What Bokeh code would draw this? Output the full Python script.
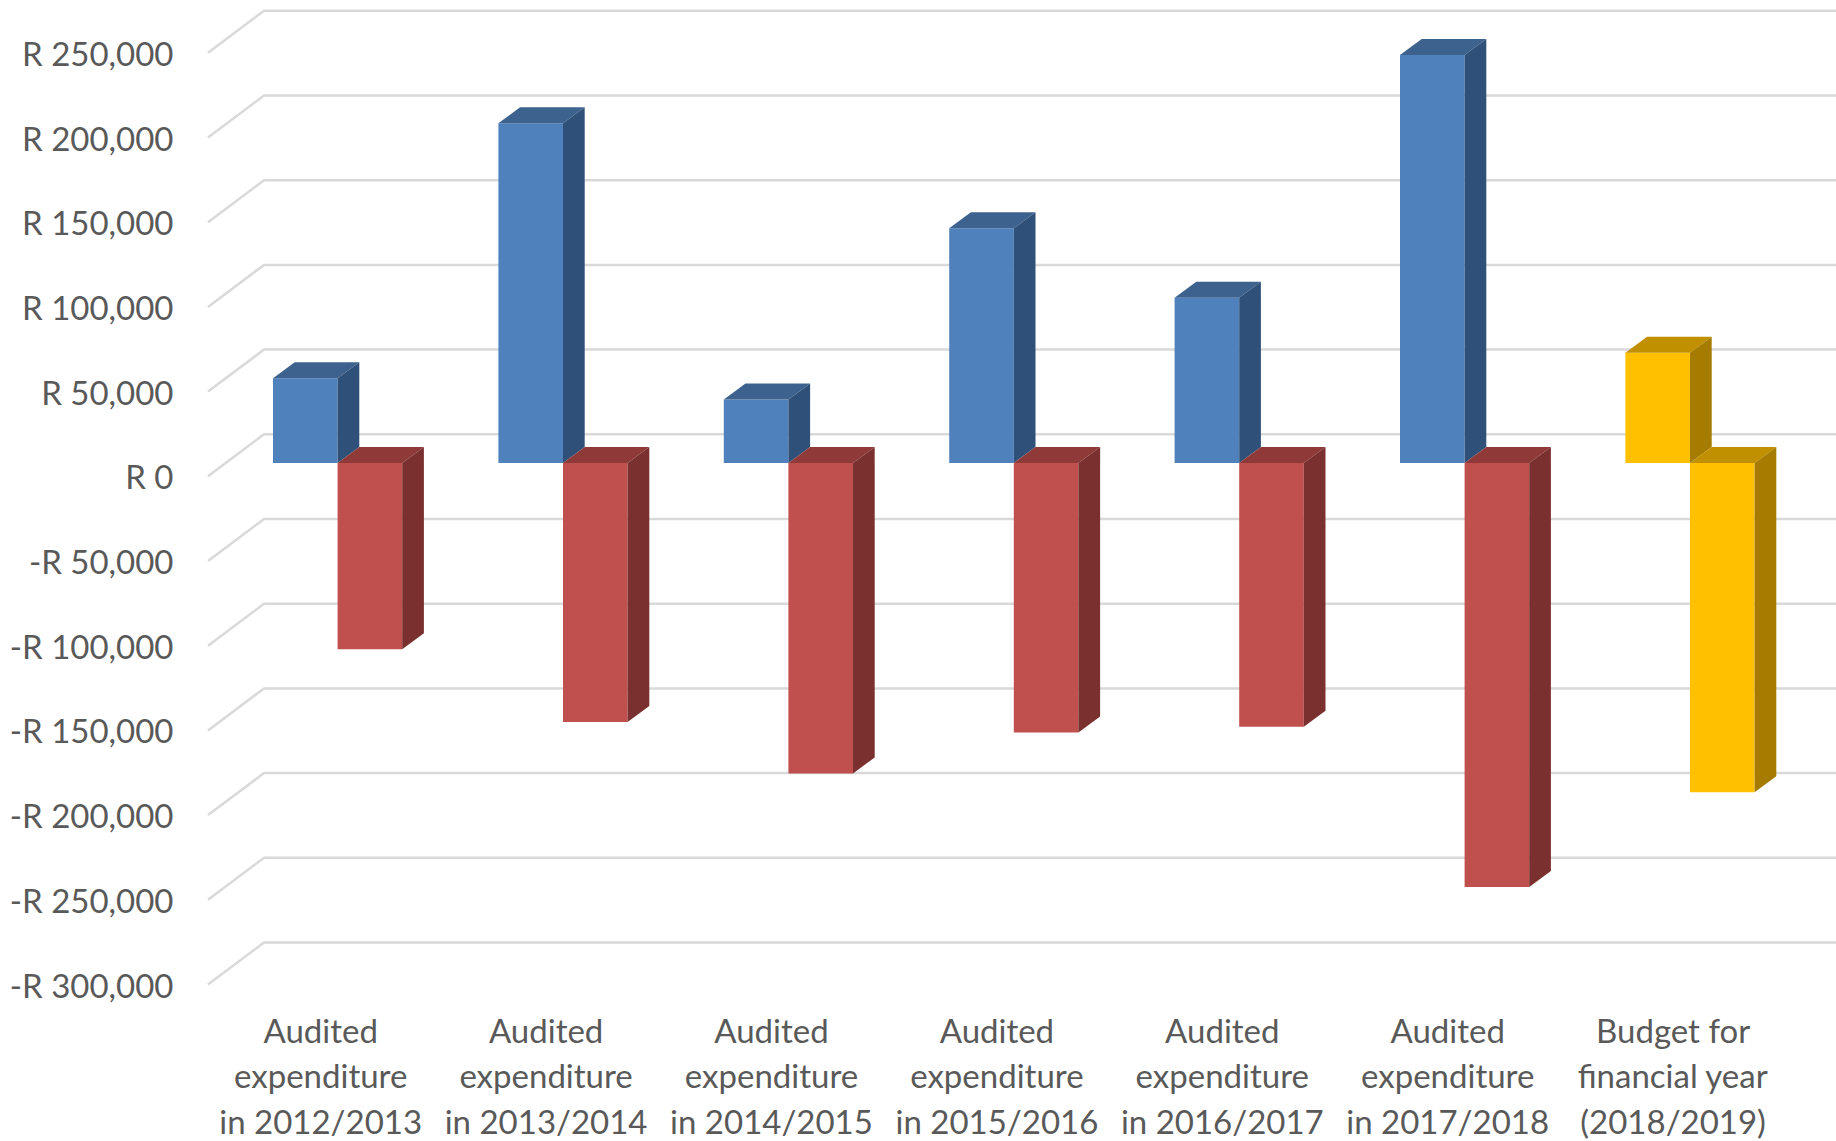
from bokeh.plotting import figure
from bokeh.models import FixedTicker, Range1d
from bokeh.embed import file_html
from bokeh.resources import INLINE

categories = ["Audited\nexpenditure\nin 2012/2013", "Audited\nexpenditure\nin 2013/2014",
              "Audited\nexpenditure\nin 2014/2015", "Audited\nexpenditure\nin 2015/2016",
              "Audited\nexpenditure\nin 2016/2017", "Audited\nexpenditure\nin 2017/2018",
              "Budget for\nfinancial year\n(2018/2019)"]
income = [50000, 200500, 37500, 138500, 97500, 240800, 65000]
spending = [-110000, -152900, -183300, -159100, -155700, -250400, -194400]
y_ticks = [250000, 200000, 150000, 100000, 50000, 0, -50000, -100000, -150000, -200000, -250000, -300000]
y_labels = ["R 250,000", "R 200,000", "R 150,000", "R 100,000", "R 50,000", "R 0", "-R 50,000",
            "-R 100,000", "-R 150,000", "-R 200,000", "-R 250,000", "-R 300,000"]

PX_X = 225.4          # pixels per category
PX_Y = 84.7 / 50000   # pixels per rand
FRAME_LEFT, FRAME_TOP, FRAME_BOTTOM = 200, 4, 1141
FONT = "Lato"
TEXT = "#595959"

x_start = (FRAME_LEFT - 207.5) / PX_X
x_end = x_start + (1836 - FRAME_LEFT) / PX_X
y_start = -300000 - (FRAME_BOTTOM - 984) / PX_Y
y_end = y_start + (FRAME_BOTTOM - FRAME_TOP) / PX_Y

p = figure(width=1836, height=1141, output_backend="svg", toolbar_location=None,
           x_range=Range1d(x_start, x_end), y_range=Range1d(y_start, y_end),
           min_border_left=FRAME_LEFT, min_border_right=0, min_border_top=FRAME_TOP,
           min_border_bottom=0, outline_line_color=None,
           background_fill_color="white", border_fill_color="white")
p.styles = {"position": "absolute", "left": "0", "top": "0"}
p.grid.visible = False

# axes
ax = p.yaxis[0]
ax.ticker = FixedTicker(ticks=y_ticks)
ax.major_label_overrides = dict(zip(y_ticks, y_labels))
ax.axis_line_color = None
ax.major_tick_line_color = None
ax.minor_tick_line_color = None
ax.major_tick_out = 0
ax.major_tick_in = 0
ax.major_label_standoff = 27
ax.major_label_text_font = FONT
ax.major_label_text_font_size = "33px"
ax.major_label_text_color = TEXT

bx = p.xaxis[0]
cat_pos = [i + 0.5 for i in range(len(categories))]
bx.ticker = FixedTicker(ticks=cat_pos)
bx.major_label_overrides = dict(zip(cat_pos, categories))
bx.fixed_location = -300000
bx.axis_line_color = None
bx.major_tick_line_color = None
bx.minor_tick_line_color = None
bx.major_tick_out = 0
bx.major_tick_in = 0
bx.major_label_standoff = 25
bx.major_label_text_font = FONT
bx.major_label_text_font_size = "33px"
bx.major_label_text_color = TEXT
bx.major_label_text_line_height = 1.14

# depth of the 3D box in data units
FLOOR_DX, FLOOR_DY = 56 / PX_X, 42 / PX_Y
BAR_DX, BAR_DY = 21.7 / PX_X, 16 / PX_Y
BAR_X0, BAR_W = 65 / PX_X, 64.6 / PX_X
BAR_BASE = 13.4 / PX_Y

# gridlines: slanted floor edge then back wall
p.multi_line(xs=[[0, FLOOR_DX, x_end] for _ in y_ticks],
             ys=[[v, v + FLOOR_DY, v + FLOOR_DY] for v in y_ticks],
             line_color="#d9d9d9", line_width=2.5)

PALETTE = {"blue": ("#4f81bd", "#3d628e", "#2f5179"),
           "red": ("#c0504d", "#8f3a38", "#7a302e"),
           "gold": ("#ffc000", "#c09000", "#a67c00")}

def draw(i, v, x0, colors):
    front, top, side = colors
    x1 = x0 + BAR_W
    b = BAR_BASE
    hi, lo = max(v, 0) + b, min(v, 0) + b
    p.quad(left=[x0], right=[x1], top=[hi], bottom=[lo], fill_color=front, line_color=None)
    p.patch([x0, x1, x1 + BAR_DX, x0 + BAR_DX], [hi, hi, hi + BAR_DY, hi + BAR_DY],
            fill_color=top, line_color=None)
    p.patch([x1, x1 + BAR_DX, x1 + BAR_DX, x1], [hi, hi + BAR_DY, lo + BAR_DY, lo],
            fill_color=side, line_color=None)

for i in range(len(categories)):
    last = i == len(categories) - 1
    draw(i, income[i], i + BAR_X0, PALETTE["gold" if last else "blue"])
    draw(i, spending[i], i + BAR_X0 + BAR_W, PALETTE["gold" if last else "red"])

open("out.html", "w").write(file_html(p, INLINE))
